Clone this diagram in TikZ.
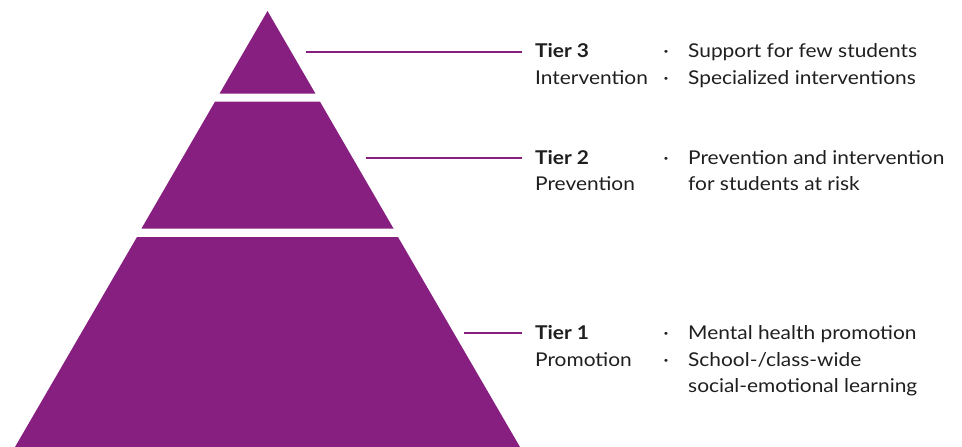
\documentclass[tikz,border=0pt]{standalone}
\usepackage{fontspec}
\setmainfont{Lato}[FakeStretch=1.1]
\definecolor{tierpurple}{RGB}{134,31,128}
\tikzset{
  tier/.style={fill=tierpurple, draw=none},
  leader/.style={draw=tierpurple, line width=1.6pt},
  lbl/.style={anchor=base west, inner sep=0pt, font=\fontsize{19}{22}\selectfont, text=black!88},
  bul/.style={anchor=base, inner sep=0pt, font=\fontsize{19}{22}\selectfont, text=black!88}
}
\begin{document}
\begin{tikzpicture}[x=1pt,y=-1pt]
\useasboundingbox (0,0) rectangle (962,447);
% pyramid tiers
\fill[tier] (267.5,11) -- (315.5,93.7) -- (219.5,93.7) -- cycle;
\fill[tier] (215,101.7) -- (320,101.7) -- (393.5,228.5) -- (141.5,228.5) -- cycle;
\fill[tier] (137,237) -- (398,237) -- (520,447) -- (15,447) -- cycle;
% anchor points
\coordinate (p3) at (306,52);
\coordinate (p2) at (366,158);
\coordinate (p1) at (464,333);
% tier 3
\node[lbl] (t3a) at (535,57.5) {\textbf{Tier 3}};
\node[lbl] (t3b) at (535,84) {Intervention};
\node[bul] (b3a) at (666,57.5) {·};
\node[bul] (b3b) at (666,84) {·};
\node[lbl] (d3a) at (688,57.5) {Support for few students};
\node[lbl] (d3b) at (688,84) {Specialized interventions};
% tier 2
\node[lbl] (t2a) at (535,164.5) {\textbf{Tier 2}};
\node[lbl] (t2b) at (535,190.5) {Prevention};
\node[bul] (b2a) at (666,164.5) {·};
\node[lbl] (d2a) at (688,164.5) {Prevention and intervention};
\node[lbl] (d2b) at (688,190.5) {for students at risk};
% tier 1
\node[lbl] (t1a) at (535,339.5) {\textbf{Tier 1}};
\node[lbl] (t1b) at (535,366) {Promotion};
\node[bul] (b1a) at (666,339.5) {·};
\node[bul] (b1b) at (666,366) {·};
\node[lbl] (d1a) at (688,339.5) {Mental health promotion};
\node[lbl] (d1b) at (688,366) {School-/class-wide};
\node[lbl] (d1c) at (688,392) {social-emotional learning};
% leaders
\draw[leader] (p3) -- ([xshift=-13pt]p3 -| t3a.west);
\draw[leader] (p2) -- ([xshift=-13pt]p2 -| t2a.west);
\draw[leader] (p1) -- ([xshift=-13pt]p1 -| t1a.west);
\end{tikzpicture}
\end{document}
